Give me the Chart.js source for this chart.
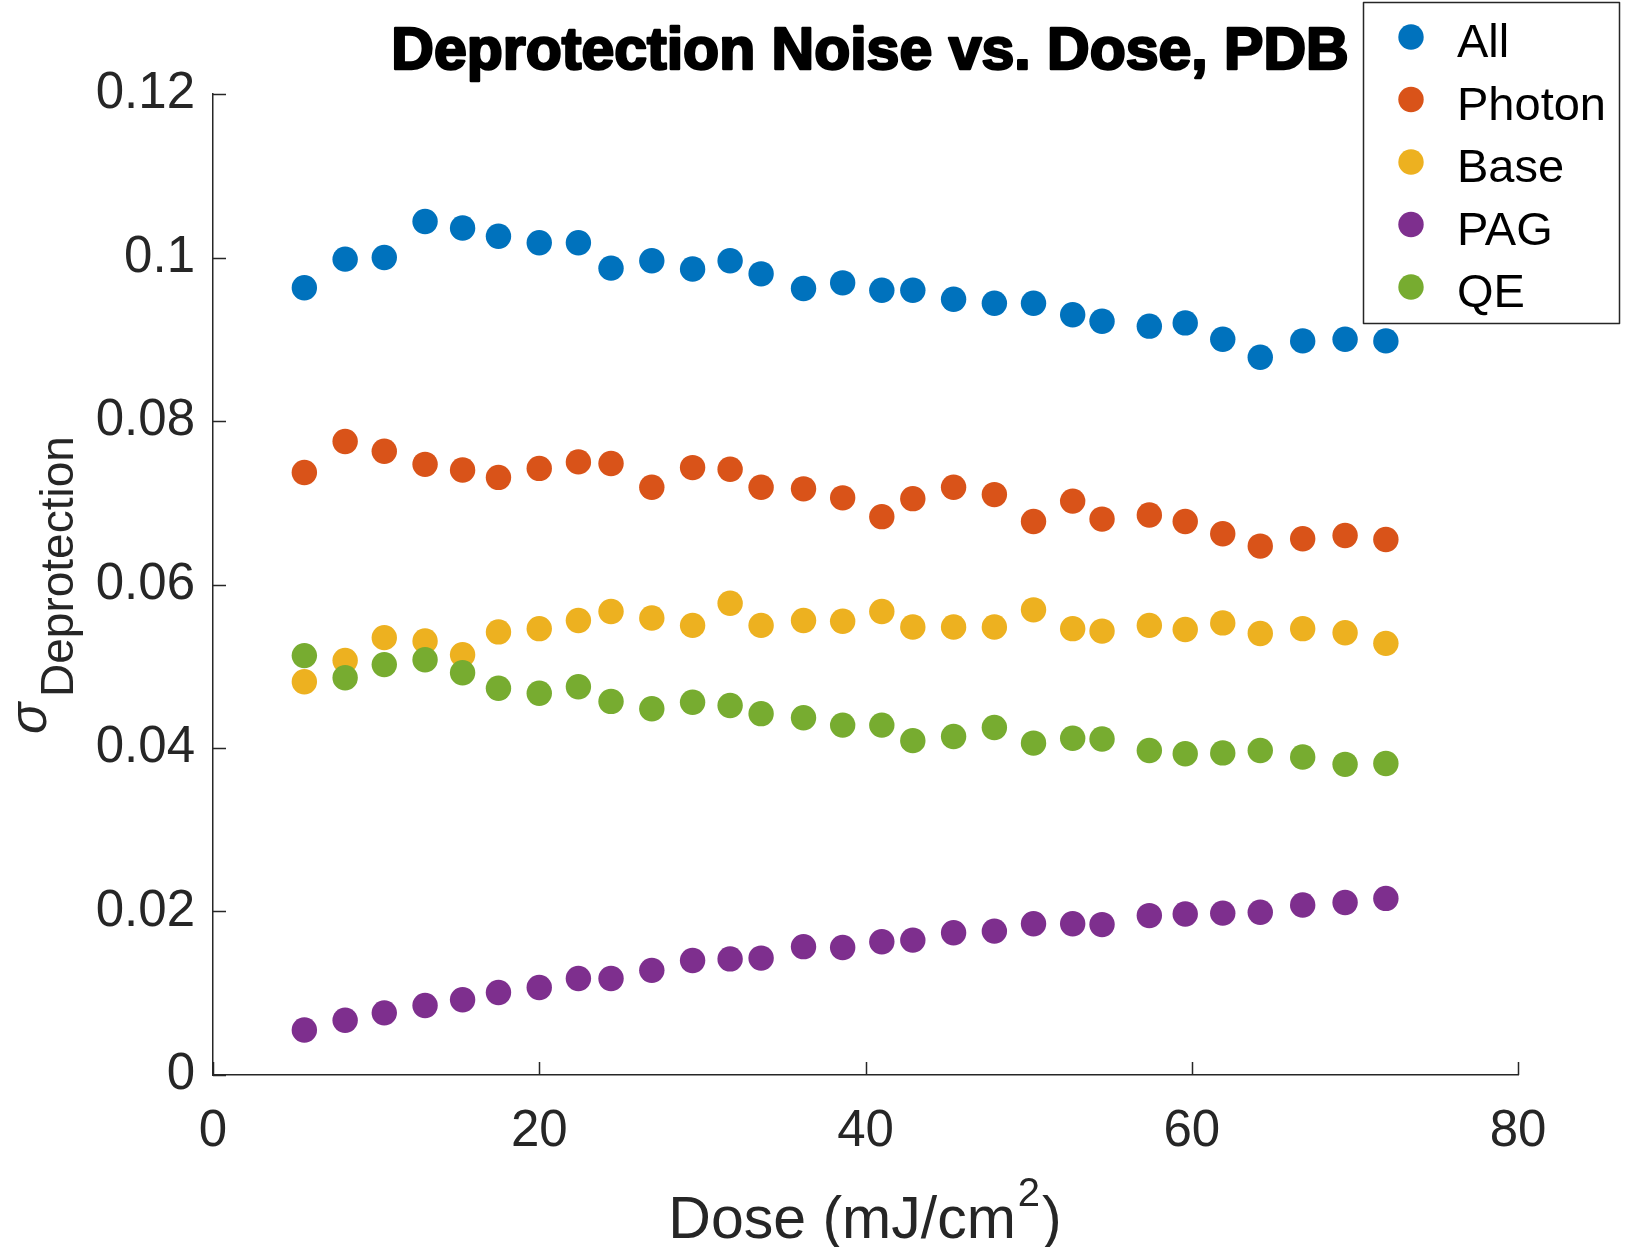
<!DOCTYPE html>
<html lang="en">
<head>
    <meta charset="UTF-8">
    <title>Deprotection Noise vs. Dose, PDB</title>
    <script src="https://cdn.jsdelivr.net/npm/chart.js@4.4.0/dist/chart.umd.min.js"></script>
    <style>
        body {
            margin: 0;
            background-color: #ffffff;
        }
        #wrap {
            width: 1629px;
            height: 1247px;
        }
    </style>
</head>
<body>
    <div id="wrap"><canvas id="noiseChart" width="1629" height="1247"></canvas></div>

    <script>
        // Dose values (mJ/cm^2) shared by every series
        const doseValues = [5.6, 8.1, 10.5, 13.0, 15.3, 17.5, 20.0, 22.4, 24.4, 26.9,
            29.4, 31.7, 33.6, 36.2, 38.6, 41.0, 42.9, 45.4, 47.9, 50.3,
            52.7, 54.5, 57.4, 59.6, 61.9, 64.2, 66.8, 69.4, 71.9];

        // Deprotection noise for each contribution
        const sigmaAll = [0.0963, 0.0998, 0.1000, 0.1044, 0.1036, 0.1026, 0.1018, 0.1018, 0.0987, 0.0996,
            0.0986, 0.0996, 0.0980, 0.0962, 0.0969, 0.0960, 0.0960, 0.0949, 0.0944, 0.0944,
            0.0930, 0.0922, 0.0916, 0.0920, 0.0900, 0.0878, 0.0898, 0.0900, 0.0898];
        const sigmaPhoton = [0.0737, 0.0775, 0.0763, 0.0747, 0.0740, 0.0731, 0.0742, 0.0750, 0.0748, 0.0719,
            0.0743, 0.0741, 0.0719, 0.0717, 0.0706, 0.0683, 0.0705, 0.0719, 0.0710, 0.0677,
            0.0702, 0.0680, 0.0685, 0.0677, 0.0662, 0.0647, 0.0656, 0.0660, 0.0655];
        const sigmaBase = [0.0481, 0.0507, 0.0535, 0.0531, 0.0514, 0.0542, 0.0546, 0.0556, 0.0567, 0.0559,
            0.0550, 0.0577, 0.0550, 0.0556, 0.0555, 0.0567, 0.0548, 0.0548, 0.0548, 0.0569,
            0.0546, 0.0543, 0.0550, 0.0545, 0.0553, 0.0540, 0.0546, 0.0541, 0.0528];
        const sigmaPag = [0.0055, 0.0067, 0.0076, 0.0085, 0.0092, 0.0101, 0.0107, 0.0118, 0.0118, 0.0128,
            0.0140, 0.0142, 0.0143, 0.0157, 0.0156, 0.0163, 0.0165, 0.0174, 0.0176, 0.0185,
            0.0185, 0.0184, 0.0195, 0.0197, 0.0198, 0.0199, 0.0208, 0.0211, 0.0216];
        const sigmaQe = [0.0513, 0.0486, 0.0502, 0.0508, 0.0492, 0.0473, 0.0467, 0.0475, 0.0457, 0.0448,
            0.0456, 0.0452, 0.0442, 0.0437, 0.0428, 0.0428, 0.0409, 0.0414, 0.0425, 0.0406,
            0.0412, 0.0411, 0.0397, 0.0393, 0.0394, 0.0397, 0.0389, 0.0380, 0.0381];

        const seriesNames = ['All', 'Photon', 'Base', 'PAG', 'QE'];

        const xTicks = [0, 20, 40, 60, 80];
        const xTickLabels = ['0', '20', '40', '60', '80'];
        const yTicks = [0, 0.02, 0.04, 0.06, 0.08, 0.1, 0.12];
        const yTickLabels = ['0', '0.02', '0.04', '0.06', '0.08', '0.1', '0.12'];

        const chartTitle = 'Deprotection Noise vs. Dose, PDB';

        // MATLAB default line colours
        const colors = ['#0072BD', '#D95319', '#EDB120', '#7E2F8E', '#77AC30'];
        const axisColor = '#262626';
        const fontFamily = '"Liberation Sans", Arial, Helvetica, sans-serif';
        const markerRadius = 12.7;
        const tickLen = 13;

        const seriesValues = [sigmaAll, sigmaPhoton, sigmaBase, sigmaPag, sigmaQe];
        const datasets = seriesValues.map((vals, i) => ({
            label: seriesNames[i],
            data: doseValues.map((d, j) => ({ x: d, y: vals[j] })),
            backgroundColor: colors[i],
            borderColor: colors[i],
            pointRadius: markerRadius,
            pointHoverRadius: markerRadius,
            pointBorderWidth: 0,
            showLine: false,
            order: seriesValues.length - i   // later series sit on top
        }));

        // Inward ticks, title, axis labels and the boxed legend
        const axesDecor = {
            id: 'axesDecor',
            afterDraw(chart) {
                const ctx = chart.ctx;
                const area = chart.chartArea;
                const xs = chart.scales.x;
                const ys = chart.scales.y;
                ctx.save();

                ctx.strokeStyle = axisColor;
                ctx.lineWidth = 1.5;
                ctx.beginPath();
                xs.ticks.forEach(t => {
                    const px = Math.round(xs.getPixelForValue(t.value)) + 0.5;
                    ctx.moveTo(px, area.bottom);
                    ctx.lineTo(px, area.bottom - tickLen);
                });
                ys.ticks.forEach(t => {
                    const py = Math.round(ys.getPixelForValue(t.value)) + 0.5;
                    ctx.moveTo(area.left, py);
                    ctx.lineTo(area.left + tickLen, py);
                });
                ctx.stroke();

                // title, drawn heavy with tight spacing
                ctx.fillStyle = '#000000';
                ctx.strokeStyle = '#000000';
                ctx.lineWidth = 2.5;
                ctx.lineJoin = 'round';
                ctx.textAlign = 'center';
                ctx.textBaseline = 'alphabetic';
                ctx.font = 'bold 59px ' + fontFamily;
                ctx.fillText(chartTitle, 870, 69);
                ctx.strokeText(chartTitle, 870, 69);

                // x axis label with superscript
                ctx.fillStyle = axisColor;
                ctx.textAlign = 'left';
                const mainFont = '59px ' + fontFamily;
                const supFont = '40px ' + fontFamily;
                ctx.font = mainFont;
                const w1 = ctx.measureText('Dose (mJ/cm').width;
                const w3 = ctx.measureText(')').width;
                ctx.font = supFont;
                const w2 = ctx.measureText('2').width;
                let x0 = 865 - (w1 + w2 + w3 + 4) / 2;
                ctx.font = mainFont;
                ctx.fillText('Dose (mJ/cm', x0, 1238);
                ctx.font = supFont;
                ctx.fillText('2', x0 + w1 + 2, 1206);
                ctx.font = mainFont;
                ctx.fillText(')', x0 + w1 + w2 + 4, 1238);

                // y axis label: sigma with subscript, rotated
                ctx.save();
                ctx.translate(46, 734);
                ctx.rotate(-Math.PI / 2);
                ctx.font = 'italic 52px ' + fontFamily;
                ctx.fillText('σ', 0, 0);
                ctx.font = '46px ' + fontFamily;
                ctx.fillText('Deprotection', 37, 27);
                ctx.restore();

                // legend
                const box = { left: 1363, top: 2, right: 1619, bottom: 323 };
                ctx.fillStyle = '#ffffff';
                ctx.fillRect(box.left, box.top, box.right - box.left, box.bottom - box.top);
                ctx.strokeStyle = axisColor;
                ctx.lineWidth = 1.5;
                ctx.strokeRect(box.left + 0.5, box.top + 0.5, box.right - box.left, box.bottom - box.top);
                ctx.font = '47px ' + fontFamily;
                ctx.textAlign = 'left';
                chart.data.datasets.forEach((ds, i) => {
                    const cy = 37 + i * 62.5;
                    ctx.fillStyle = ds.backgroundColor;
                    ctx.beginPath();
                    ctx.arc(1411, cy, markerRadius, 0, Math.PI * 2);
                    ctx.fill();
                    ctx.fillStyle = '#000000';
                    ctx.fillText(ds.label, 1457, cy + 20);
                });

                ctx.restore();
            }
        };

        const tickFont = { family: fontFamily, size: 51 };

        new Chart(document.getElementById('noiseChart'), {
            type: 'scatter',
            data: { datasets: datasets },
            options: {
                responsive: false,
                animation: false,
                events: [],
                layout: { padding: { left: 0, top: 94, right: 111, bottom: 0 } },
                plugins: {
                    legend: { display: false },
                    title: { display: false },
                    tooltip: { enabled: false }
                },
                scales: {
                    x: {
                        type: 'linear',
                        min: 0,
                        max: 80,
                        afterBuildTicks: s => { s.ticks = xTicks.map(v => ({ value: v })); },
                        afterFit: s => { s.height = 172; },
                        ticks: {
                            callback: (v, i) => xTickLabels[i],
                            font: tickFont,
                            color: axisColor,
                            padding: 26,
                            maxRotation: 0,
                            autoSkip: false
                        },
                        grid: { drawOnChartArea: false, drawTicks: false },
                        border: { display: true, color: axisColor, width: 1.5 }
                    },
                    y: {
                        type: 'linear',
                        min: 0,
                        max: 0.12,
                        afterBuildTicks: s => { s.ticks = yTicks.map(v => ({ value: v })); },
                        afterFit: s => { s.width = 213; },
                        ticks: {
                            callback: (v, i) => yTickLabels[i],
                            font: tickFont,
                            color: axisColor,
                            padding: 18,
                            autoSkip: false
                        },
                        grid: { drawOnChartArea: false, drawTicks: false },
                        border: { display: true, color: axisColor, width: 1.5 }
                    }
                }
            },
            plugins: [axesDecor]
        });
    </script>
</body>
</html>
